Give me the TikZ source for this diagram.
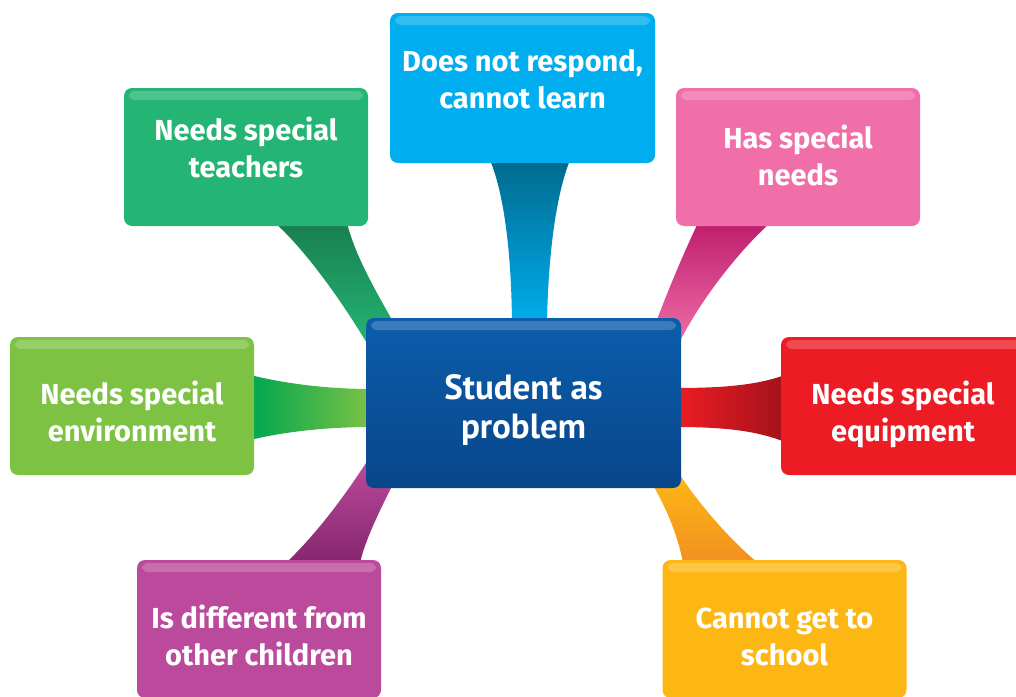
\documentclass[tikz,border=0pt]{standalone}
\usepackage{fontspec}
\setmainfont{Fira Sans}
\newfontfamily\probfont{PT Sans}
\usetikzlibrary{calc,backgrounds}

\definecolor{probblue}{HTML}{0B5DAB}
\definecolor{probdark}{HTML}{08468A}
\definecolor{respcyan}{HTML}{00AEEF}
\definecolor{respdark}{HTML}{006A8E}
\definecolor{teachgreen}{HTML}{24B574}
\definecolor{teachdark}{HTML}{197F50}
\definecolor{needspink}{HTML}{F06FA9}
\definecolor{needsdark}{HTML}{BE1E6E}
\definecolor{envgreen}{HTML}{7DC243}
\definecolor{envdark}{HTML}{00A651}
\definecolor{equipred}{HTML}{ED1C24}
\definecolor{equipdark}{HTML}{A3121A}
\definecolor{diffpurple}{HTML}{BB4A9C}
\definecolor{diffdark}{HTML}{86266E}
\definecolor{schoolyellow}{HTML}{FDB715}
\definecolor{schooldark}{HTML}{F39020}

\begin{document}
\begin{tikzpicture}[x=1pt, y=-1pt,
    gloss/.style={path picture={\fill[white, opacity=0.2, rounded corners=6pt]
        ([shift={(5pt,-3pt)}]path picture bounding box.north west) rectangle
        ([shift={(-5pt,-12pt)}]path picture bounding box.north east);}},
    box/.style={rounded corners=8pt, text=white, align=center, inner sep=0pt, outer sep=0pt,
        font=\bfseries\fontsize{29}{37}\selectfont, text height=58pt, text depth=18pt, gloss}]
    \useasboundingbox (0,0) rectangle (1016,696);

    % Outer boxes round the centre
    \foreach \nm/\x/\y/\w/\h/\th/\col/\txt in {
        resp/522.5/88/265/150/58/respcyan/{Does not respond,\\cannot learn},
        teach/246/157/244/138/58/teachgreen/{Needs special\\teachers},
        needs/798/157/244/138/74/needspink/{Has special\\needs},
        env/132/406/244/138/88/envgreen/{Needs special\\environment},
        equip/903/406/244/138/88/equipred/{Needs special\\equipment},
        diff/259/629/244/138/90/diffpurple/{Is different from\\other children},
        school/784.5/629/244/138/90/schoolyellow/{Cannot get to\\school}} {
        \node[box, fill=\col, minimum width=\w pt, minimum height=\h pt, text height=\th pt] (\nm) at (\x,\y) {\txt};
    }

    % Centre box
    \node[box, top color=probblue, middle color=probblue, bottom color=probdark,
        minimum width=315pt, minimum height=170pt, text height=70pt, text depth=0pt,
        font=\probfont\bfseries\fontsize{35}{39}\selectfont] (prob) at (523.5,403) {Student as\\problem};

    % Tapered bands from each box to the centre
    \begin{scope}[on background layer]
        \shade[top color=respdark, bottom color=respcyan]
            ($(resp.south)+(-32.5,-3)$) .. controls ($(resp.south)+(-18,32)$) and ($(prob.north)+(-12,-63)$) .. ($(prob.north)+(-11.5,7)$)
            -- ($(prob.north)+(23.5,7)$) .. controls ($(prob.north)+(24.5,-63)$) and ($(resp.south)+(33.5,32)$) .. ($(resp.south)+(47.5,-3)$) -- cycle;
        \shade[top color=teachdark, bottom color=teachgreen]
            ($(teach.south)+(29,-3)$) .. controls ($(teach.south)+(54,19)$) and ($(prob.north west)+(-31,-28)$) .. ($(prob.north west)+(2,27)$)
            -- ($(prob.north west)+(29,7)$) .. controls ($(prob.north west)+(9,-28)$) and ($(teach.south)+(109,29)$) .. ($(teach.south)+(101,-3)$) -- cycle;
        \shade[top color=needsdark, bottom color=needspink]
            ($(needs.south)+(-100,-3)$) .. controls ($(needs.south)+(-113,24)$) and ($(prob.north east)+(-13,-28)$) .. ($(prob.north east)+(-26,7)$)
            -- ($(prob.north east)+(-3,27)$) .. controls ($(prob.north east)+(19,-18)$) and ($(needs.south)+(-58,24)$) .. ($(needs.south)+(-28,-3)$) -- cycle;
        \shade[left color=envdark, middle color=envgreen, right color=envgreen]
            ($(env.east)+(-4,-31)$) .. controls ($(env.east)+(25,-24)$) and ($(prob.west)+(-46,-14)$) .. ($(prob.west)+(6,-14)$)
            -- ($(prob.west)+(6,24)$) .. controls ($(prob.west)+(-46,24)$) and ($(env.east)+(25,27)$) .. ($(env.east)+(-4,34)$) -- cycle;
        \shade[left color=equipred, middle color=equipred, right color=equipdark]
            ($(prob.east)+(-5,-15)$) .. controls ($(prob.east)+(49,-15)$) and ($(equip.west)+(-21,-22)$) .. ($(equip.west)+(4,-31)$)
            -- ($(equip.west)+(4,36)$) .. controls ($(equip.west)+(-21,26)$) and ($(prob.east)+(49,24)$) .. ($(prob.east)+(-5,24)$) -- cycle;
        \shade[top color=diffpurple, bottom color=diffdark]
            ($(diff.north)+(27,3)$) .. controls ($(diff.north)+(61,-30)$) and ($(prob.south west)+(-21,7)$) .. ($(prob.south west)+(2,-28)$)
            -- ($(prob.south west)+(29,-8)$) .. controls ($(prob.south west)+(14,22)$) and ($(diff.north)+(106,-20)$) .. ($(diff.north)+(101,3)$) -- cycle;
        \shade[top color=schoolyellow, bottom color=schooldark]
            ($(prob.south east)+(-31,-8)$) .. controls ($(prob.south east)+(-16,17)$) and ($(school.north)+(-106.5,-25)$) .. ($(school.north)+(-101.5,3)$)
            -- ($(school.north)+(-26.5,3)$) .. controls ($(school.north)+(-54.5,-20)$) and ($(prob.south east)+(19,17)$) .. ($(prob.south east)+(-1,-13)$) -- cycle;
    \end{scope}
\end{tikzpicture}
\end{document}
